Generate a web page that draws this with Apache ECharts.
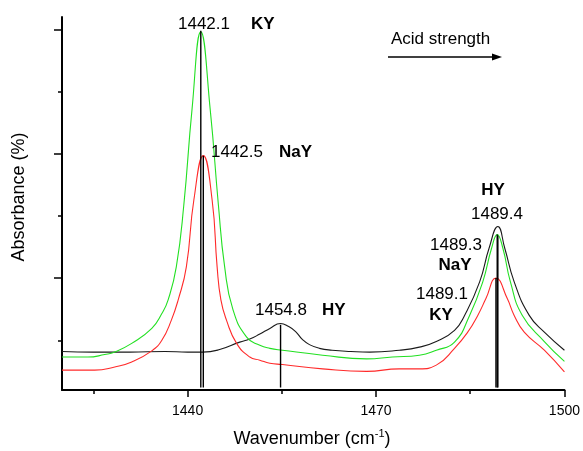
<!DOCTYPE html>
<html>
<head>
<meta charset="utf-8">
<title>Pyridine IR bands</title>
<script src="https://cdn.jsdelivr.net/npm/echarts@6/dist/echarts.min.js"></script>
<style>
  html, body { margin: 0; padding: 0; background: #fff; }
</style>
</head>
<body>
<div id="main" style="width:583px;height:451px;"></div>
<script type="text/javascript">
// HY (black)
var hyWave = [1420, 1425, 1430.8, 1436.4, 1440, 1442.4, 1445.1, 1448.3, 1449.9, 1451.5, 1453.1, 1454.8, 1456.1, 1457.2, 1458.3, 1459.4, 1461, 1463, 1466, 1469, 1473.7, 1476.9, 1479.6, 1482.5, 1484.1, 1486.5, 1488.0, 1489.4, 1490.5, 1492.0, 1494.4, 1496.8, 1500];
var hyAbs = [-0.18, -0.19, -0.19, -0.18, -0.19, -0.19, -0.15, -0.03, 0.02, 0.10, 0.19, 0.27, 0.22, 0.14, 0.01, -0.07, -0.13, -0.16, -0.18, -0.19, -0.16, -0.11, -0.02, 0.16, 0.40, 0.94, 1.48, 1.83, 1.48, 0.94, 0.40, 0.13, -0.16];

// KY (green)
var kyWave = [1420, 1424.1, 1426.8, 1428.4, 1431.1, 1434.3, 1435.9, 1436.9, 1438.2, 1439.4, 1440.7, 1442.1, 1443.6, 1444.9, 1445.9, 1447.2, 1449.4, 1451.5, 1453.1, 1455.1, 1461.5, 1468.5, 1472.6, 1476.9, 1479.6, 1482.5, 1484.9, 1487.0, 1488.4, 1489.3, 1490.2, 1491.4, 1493.3, 1496.8, 1500];
var kyAbs = [-0.27, -0.27, -0.23, -0.19, -0.05, 0.19, 0.43, 0.65, 1.18, 2.18, 3.71, 4.96, 3.71, 2.18, 1.18, 0.50, 0.05, -0.08, -0.13, -0.16, -0.24, -0.30, -0.27, -0.24, -0.16, -0.03, 0.40, 0.94, 1.48, 1.70, 1.48, 0.94, 0.40, -0.02, -0.34];

// NaY (red)
var nayWave = [1420, 1425.2, 1428.4, 1431.1, 1434.3, 1435.9, 1437.4, 1438.5, 1439.8, 1441.0, 1442.5, 1443.9, 1444.7, 1445.3, 1446.2, 1447.8, 1449.9, 1451.5, 1453.1, 1455.1, 1461.5, 1468.5, 1473.7, 1476.9, 1479.6, 1482.5, 1484.6, 1486.2, 1487.5, 1489.1, 1490.9, 1492.0, 1493.6, 1496.8, 1500];
var nayAbs = [-0.48, -0.48, -0.43, -0.35, -0.17, 0.00, 0.32, 0.65, 1.18, 2.26, 2.97, 2.26, 1.18, 0.65, 0.32, -0.05, -0.27, -0.32, -0.37, -0.39, -0.46, -0.50, -0.46, -0.46, -0.40, -0.13, 0.13, 0.40, 0.67, 1.00, 0.67, 0.40, 0.13, -0.16, -0.51];

// peak marker lines
var peakWave = [1442.1, 1442.5, 1454.8, 1489.1, 1489.3, 1489.4];
var peakTop = [4.98, 2.97, 0.25, 1.00, 1.70, 1.68];
var peakBottom = -0.76;

var majorX = [1440, 1470, 1500];
var minorX = [1425, 1455, 1485];
var majorY = [1, 3, 5];
var minorY = [0, 2, 4];

var FONT = '"Liberation Sans", Arial, sans-serif';

function zip(xs, ys) {
    return xs.map(function (x, i) { return [x, ys[i]]; });
}

var myChart = echarts.init(document.getElementById('main'));

var series = [
    { name: 'HY', data: zip(hyWave, hyAbs), color: '#1a1a1a' },
    { name: 'KY', data: zip(kyWave, kyAbs), color: '#22e022' },
    { name: 'NaY', data: zip(nayWave, nayAbs), color: '#ff2a2a' }
].map(function (s) {
    return {
        type: 'line',
        name: s.name,
        data: s.data,
        showSymbol: false,
        smooth: 0.5,
        lineStyle: { color: s.color, width: 1.1 },
        z: 2
    };
});

// vertical lines from each peak down to the axis
peakWave.forEach(function (w, i) {
    series.push({
        type: 'line',
        data: [[w, peakTop[i]], [w, peakBottom]],
        showSymbol: false,
        lineStyle: { color: '#000', width: 1.4 },
        z: 3
    });
});

function txt(x, y, s, opt) {
    opt = opt || {};
    return {
        type: 'text',
        x: x, y: y,
        style: {
            text: s,
            font: (opt.bold ? 'bold ' : '') + (opt.size || 17) + 'px ' + FONT,
            fill: '#000',
            textAlign: opt.align || 'left',
            textVerticalAlign: 'middle'
        },
        z: 10
    };
}

myChart.setOption({
    animation: false,
    backgroundColor: '#fff',
    grid: { left: 62, right: 17, top: 17, bottom: 61 },
    xAxis: [{
        type: 'value', min: 1420, max: 1500,
        axisLine: { show: true, onZero: false, lineStyle: { color: '#000', width: 2 } },
        axisTick: { show: true, customValues: majorX, length: 7, lineStyle: { color: '#000', width: 1.5 } },
        axisLabel: {
            customValues: majorX, color: '#000', fontSize: 14, fontFamily: FONT, margin: 14,
            formatter: function (v) { return String(v); }
        },
        splitLine: { show: false }
    }, {
        type: 'value', min: 1420, max: 1500, position: 'bottom',
        axisLine: { show: false, onZero: false },
        axisTick: { show: true, customValues: minorX, length: 4, lineStyle: { color: '#000', width: 1.5 } },
        axisLabel: { show: false },
        splitLine: { show: false }
    }],
    yAxis: [{
        type: 'value', min: -0.8, max: 5.2,
        axisLine: { show: true, onZero: false, lineStyle: { color: '#000', width: 2 } },
        axisTick: { show: true, customValues: majorY, length: 8, lineStyle: { color: '#000', width: 1.5 } },
        axisLabel: { show: false },
        splitLine: { show: false }
    }, {
        type: 'value', min: -0.8, max: 5.2, position: 'left',
        axisLine: { show: false, onZero: false },
        axisTick: { show: true, customValues: minorY, length: 4, lineStyle: { color: '#000', width: 1.5 } },
        axisLabel: { show: false },
        splitLine: { show: false }
    }],
    series: series,
    graphic: [
        txt(178, 24, '1442.1'),
        txt(251, 24, 'KY', { bold: true }),
        txt(211, 152, '1442.5'),
        txt(279, 152, 'NaY', { bold: true }),
        txt(255, 310, '1454.8'),
        txt(322, 310, 'HY', { bold: true }),
        txt(493, 190, 'HY', { bold: true, align: 'center' }),
        txt(497, 214, '1489.4', { align: 'center' }),
        txt(482, 245, '1489.3', { align: 'right' }),
        txt(455, 265, 'NaY', { bold: true, align: 'center' }),
        txt(468, 294, '1489.1', { align: 'right' }),
        txt(441, 315, 'KY', { bold: true, align: 'center' }),
        txt(391, 39, 'Acid strength', { size: 17 }),
        {
            type: 'line',
            shape: { x1: 388, y1: 57, x2: 495, y2: 57 },
            style: { stroke: '#000', lineWidth: 1.5 }
        },
        {
            type: 'polygon',
            shape: { points: [[492, 53.5], [502, 57], [492, 60.5]] },
            style: { fill: '#000' }
        },
        {
            type: 'text',
            x: 19, y: 197,
            rotation: Math.PI / 2,
            style: {
                text: 'Absorbance (%)',
                font: '18px ' + FONT,
                fill: '#000',
                textAlign: 'center',
                textVerticalAlign: 'middle'
            }
        },
        {
            type: 'text',
            x: 312, y: 439,
            style: {
                text: '{a|Wavenumber (cm}{s|-1}{a|)}',
                textAlign: 'center',
                textVerticalAlign: 'middle',
                rich: {
                    a: { fontSize: 18, fontFamily: FONT, color: '#000', lineHeight: 22 },
                    s: { fontSize: 11, fontFamily: FONT, color: '#000', lineHeight: 12, verticalAlign: 'top' }
                }
            }
        }
    ]
});
</script>
</body>
</html>
